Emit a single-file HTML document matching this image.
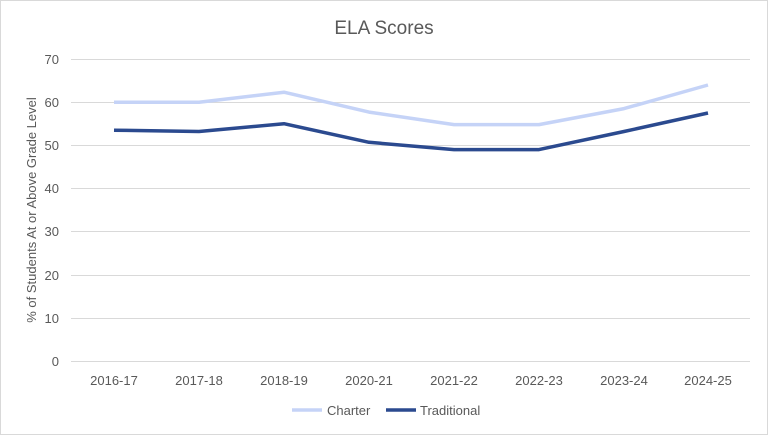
<!DOCTYPE html>
<html><head><meta charset="utf-8"><style>
html,body{margin:0;padding:0;background:#fff}
svg{display:block}
text{font-family:"Liberation Sans",Arial,sans-serif;fill:#595959}
</style></head><body>
<svg width="768" height="435" viewBox="0 0 768 435">
<rect x="0.5" y="0.5" width="767" height="434" fill="#fff" stroke="#d9d9d9"/>
<text x="384" y="34" font-size="19" text-anchor="middle">ELA Scores</text>
<g stroke="#d9d9d9" stroke-width="1">
<line x1="71" x2="750" y1="59.5" y2="59.5"/>
<line x1="71" x2="750" y1="102.5" y2="102.5"/>
<line x1="71" x2="750" y1="145.5" y2="145.5"/>
<line x1="71" x2="750" y1="188.5" y2="188.5"/>
<line x1="71" x2="750" y1="231.5" y2="231.5"/>
<line x1="71" x2="750" y1="275.5" y2="275.5"/>
<line x1="71" x2="750" y1="318.5" y2="318.5"/>
<line x1="71" x2="750" y1="361.5" y2="361.5"/>
</g>
<g font-size="13" text-anchor="end">
<text x="59" y="64">70</text><text x="59" y="107">60</text><text x="59" y="150">50</text>
<text x="59" y="193">40</text><text x="59" y="236">30</text><text x="59" y="280">20</text>
<text x="59" y="323">10</text><text x="59" y="366">0</text>
</g>
<text transform="translate(36,210) rotate(-90)" font-size="13" text-anchor="middle">% of Students At or Above Grade Level</text>
<g font-size="13" text-anchor="middle">
<text x="114" y="385">2016-17</text><text x="199" y="385">2017-18</text><text x="284" y="385">2018-19</text>
<text x="369" y="385">2020-21</text><text x="454" y="385">2021-22</text><text x="539" y="385">2022-23</text>
<text x="624" y="385">2023-24</text><text x="708" y="385">2024-25</text>
</g>
<polyline fill="none" stroke="#c5d3f7" stroke-width="3.5" stroke-linejoin="round" points="114,102.2 199,102.2 284,92.2 369,112.1 454,124.6 539,124.6 624,108.6 708,85"/>
<polyline fill="none" stroke="#2b4a8f" stroke-width="3.5" stroke-linejoin="round" points="114,130.2 199,131.5 284,123.7 369,142.3 454,149.6 539,149.6 624,131.5 708,113"/>
<line x1="292" x2="322" y1="410" y2="410" stroke="#c5d3f7" stroke-width="3.5"/>
<text x="327" y="415" font-size="13">Charter</text>
<line x1="386" x2="416" y1="410" y2="410" stroke="#2b4a8f" stroke-width="3.5"/>
<text x="420" y="415" font-size="13">Traditional</text>
</svg>
</body></html>
